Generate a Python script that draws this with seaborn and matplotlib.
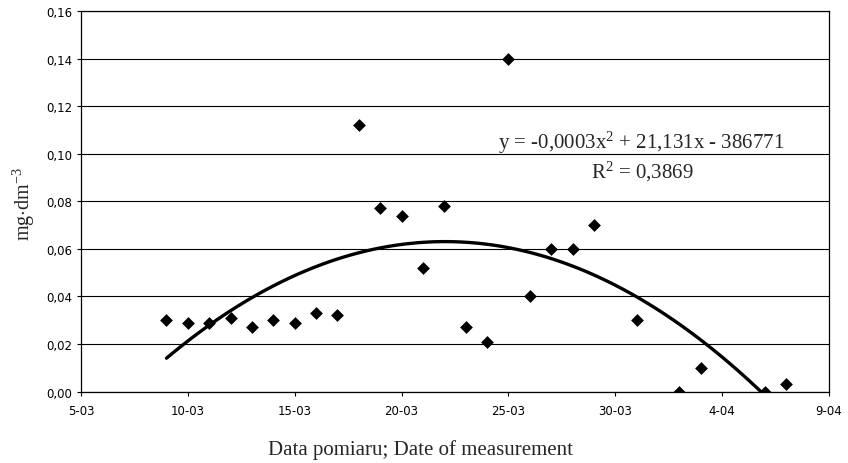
import matplotlib
matplotlib.use("Agg")
import matplotlib.pyplot as plt
import seaborn as sns
import pandas as pd
import numpy as np

# ---- data ----
dates = ["9-03", "10-03", "11-03", "12-03", "13-03", "14-03", "15-03", "16-03",
         "17-03", "18-03", "19-03", "20-03", "21-03", "22-03", "23-03", "24-03",
         "25-03", "26-03", "27-03", "28-03", "29-03", "31-03", "2-04", "3-04",
         "6-04", "7-04"]
values = [0.030, 0.029, 0.029, 0.031, 0.027, 0.030, 0.029, 0.033,
          0.032, 0.112, 0.077, 0.074, 0.052, 0.078, 0.027, 0.021,
          0.140, 0.040, 0.060, 0.060, 0.070, 0.030, 0.000, 0.010,
          0.000, 0.003]
tick_labels = ["5-03", "10-03", "15-03", "20-03", "25-03", "30-03", "4-04", "9-04"]
y_ticks = [0.00, 0.02, 0.04, 0.06, 0.08, 0.10, 0.12, 0.14, 0.16]
equation = "y = -0,0003x$^2$ + 21,131x - 386771"
r2_text = "R$^2$ = 0,3869"
x_title = "Data pomiaru; Date of measurement"
y_title = r"mg$\cdot$dm$^{-3}$"

def to_day(s):
    d = pd.to_datetime(s + "-2000", format="%d-%m-%Y")
    return (d - pd.Timestamp("2000-03-05")).days

df = pd.DataFrame({"day": [to_day(s) for s in dates], "value": values})
tick_pos = [to_day(s) for s in tick_labels]

# ---- plot ----
sns.set_theme(style="white")
plt.rcParams["font.family"] = ["DejaVu Sans"]
plt.rcParams["mathtext.fontset"] = "custom"
plt.rcParams["mathtext.rm"] = "Liberation Serif"
plt.rcParams["mathtext.it"] = "Liberation Serif:italic"

fig = plt.figure(figsize=(8.48, 4.64), dpi=100)
ax = fig.add_axes([81/848, 1 - 392.6/464, (829 - 81)/848, (392.6 - 12)/464])

ax.set_axisbelow(True)
ax.yaxis.grid(True, color="black", linewidth=0.8)
ax.xaxis.grid(False)

sns.regplot(data=df, x="day", y="value", order=2, ci=None, scatter=False,
            truncate=True, ax=ax, line_kws=dict(color="black", linewidth=2.4))
sns.scatterplot(data=df, x="day", y="value", marker="D", s=36, color="black",
                edgecolor="black", linewidth=0.5, ax=ax, zorder=3)

ax.set_xlim(0, 35)
ax.set_ylim(0, 0.16)
ax.set_xticks(tick_pos)
ax.set_xticklabels(tick_labels)
ax.set_yticks(y_ticks)
ax.set_yticklabels([f"{v:.2f}".replace(".", ",") for v in y_ticks])
ax.tick_params(axis="both", labelsize=8.5, colors="black", length=3, width=0.8,
               direction="out", bottom=True, left=True)
ax.tick_params(axis="x", pad=6)
for sp in ax.spines.values():
    sp.set_color("black")
    sp.set_linewidth(0.9)

ax.set_xlabel("")
ax.set_ylabel("")
fig.text(421/848, 1 - 450/464, x_title, ha="center", va="center",
         fontsize=15, family="Liberation Serif")
fig.text(24/848, 1 - 204/464, y_title, ha="center", va="center",
         fontsize=14.5, rotation=90, family="Liberation Serif")
fig.text(641/848, 1 - 143/464, equation, ha="center", va="center",
         fontsize=15, family="Liberation Serif")
fig.text(642/848, 1 - 172/464, r2_text, ha="center", va="center",
         fontsize=15, family="Liberation Serif")

fig.savefig("out.png", dpi=100)
